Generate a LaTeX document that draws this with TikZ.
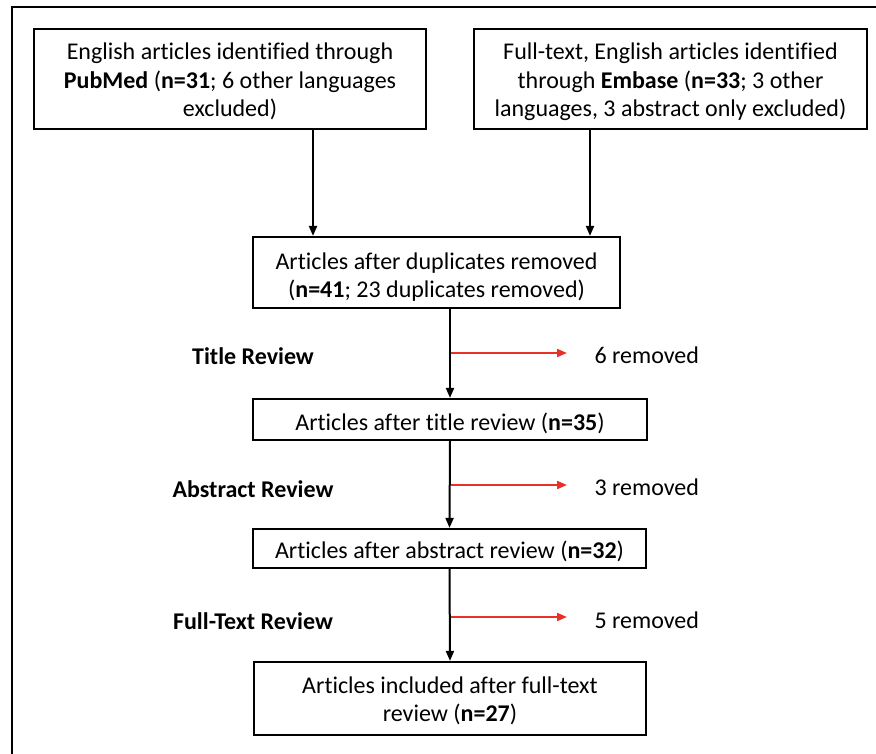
\documentclass[tikz,border=0pt]{standalone}
\usepackage{fontspec}
\setmainfont{Carlito}[Ligatures=NoCommon]
\usetikzlibrary{arrows.meta}
\definecolor{remred}{RGB}{232,50,40}
\tikzset{
  box/.style={draw, line width=2.2pt, align=center, inner sep=0pt,
    font=\fontsize{24}{28.5}\selectfont, text depth=0pt},
  revlabel/.style={font=\fontsize{24}{28.5}\selectfont\bfseries},
  remlabel/.style={anchor=west, font=\fontsize{24}{28.5}\selectfont},
  arr/.style={line width=2pt, -{Triangle[length=10pt,width=8pt]}},
  redarr/.style={remred, line width=2pt, -{Triangle[length=10pt,width=8pt]}}
}
\begin{document}
\begin{tikzpicture}[x=1pt,y=-1pt]
\useasboundingbox (0,0) rectangle (876,753);
% outer frame, cut at the right and bottom
\begin{scope}
  \clip (0,0) rectangle (876,753);
  \draw[line width=2.2pt] (12,770) -- (12,7) -- (890,7);
\end{scope}
% boxes
\node[box, text height=75pt, minimum width=392pt, minimum height=100pt] (pubmed) at (230,79)
  {English articles identified through\\\textbf{PubMed} (\textbf{n=31}; 6 other languages\\excluded)};
\node[box, text height=75pt, minimum width=393pt, minimum height=100pt] (embase) at (670.5,79)
  {Full-text, English articles identified\\through \textbf{Embase} (\textbf{n=33}; 3 other\\languages, 3 abstract only excluded)};
\node[box, text height=50pt, minimum width=367pt, minimum height=71pt] (dup) at (436.5,272.5)
  {Articles after duplicates removed\\(\textbf{n=41}; 23 duplicates removed)};
\node[box, text height=21pt, minimum width=394pt, minimum height=41pt] (title) at (450,419.5)
  {Articles after title review (\textbf{n=35})};
\node[box, text height=20pt, minimum width=393pt, minimum height=39pt] (abstract) at (449.5,548.5)
  {Articles after abstract review (\textbf{n=32})};
\node[box, text height=46pt, minimum width=392pt, minimum height=73pt] (included) at (450,698.5)
  {Articles included after full-text\\review (\textbf{n=27})};
% review labels
\node[revlabel] (trev) at (253,356) {Title Review};
\node[revlabel] (arev) at (253,489) {Abstract Review};
\node[revlabel] (frev) at (253,621) {Full-Text Review};
% removed labels
\node[remlabel] (trem) at (591,355) {6 removed};
\node[remlabel] (arem) at (591,487) {3 removed};
\node[remlabel] (frem) at (591,620) {5 removed};
% arrows
\draw[arr] ([xshift=83pt]pubmed.south) -- ([xshift=83pt]pubmed.south |- dup.north);
\draw[arr] ([xshift=-80.5pt]embase.south) -- ([xshift=-80.5pt]embase.south |- dup.north);
\draw[arr] (title.north |- dup.south) -- (title.north);
\draw[arr] (title.south) -- (abstract.north);
\draw[arr] (abstract.south) -- (included.north);
% red side arrows
\coordinate (t1) at (451,353);
\coordinate (a1) at (451,485);
\coordinate (f1) at (451,617);
\draw[redarr] (t1) -- ([xshift=-24pt]trem.west |- t1);
\draw[redarr] (a1) -- ([xshift=-24pt]arem.west |- a1);
\draw[redarr] (f1) -- ([xshift=-24pt]frem.west |- f1);
\end{tikzpicture}
\end{document}
